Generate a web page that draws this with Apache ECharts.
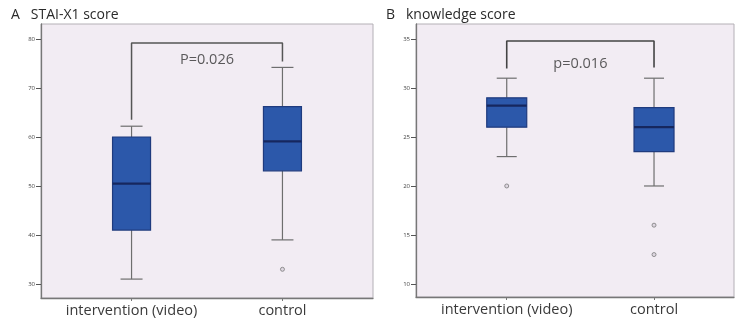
<!DOCTYPE html>
<html>
<head>
<meta charset="utf-8">
<script src="https://cdn.jsdelivr.net/npm/echarts@6/dist/echarts.min.js"></script>
<style>
  html, body { margin: 0; padding: 0; background: #ffffff; }
  #chart { width: 738px; height: 325px; }
</style>
</head>
<body>
<div id="chart"></div>
<script>
// Group labels shared by both panels
const categories = ['intervention (video)', 'control'];

// Panel A: STAI-X1 score — [low whisker, Q1, median, Q3, high whisker] per group
const staiBoxes = [
  [31, 41, 50.5, 60, 62.2],
  [39, 53.1, 59.1, 66.2, 74.2]
];
// Outliers as [group index, value]
const staiOutliers = [[1, 33]];
const staiTicks = [30, 40, 50, 60, 70, 80];
// Significance bracket: left foot, bar height, right foot
const staiBracket = { left: 63.5, top: 79.2, right: 75.4, label: 'P=0.026', labelAt: 75.8 };

// Panel B: knowledge score
const knowBoxes = [
  [23, 26, 28.2, 29, 31],
  [20, 23.5, 26, 28, 31]
];
const knowOutliers = [[0, 20], [1, 16], [1, 13]];
const knowTicks = [10, 15, 20, 25, 30, 35];
const knowBracket = { left: 32.0, top: 34.8, right: 32.1, label: 'p=0.016', labelAt: 32.5 };

const chart = echarts.init(document.getElementById('chart'), null, { renderer: 'canvas' });

const BOX_FILL = '#2c58aa';
const BOX_EDGE = '#1f3b7e';
const MEDIAN = '#16275e';
const WHISKER = '#6e6e6e';
const FONT = '"Open Sans", "Liberation Sans", sans-serif';

function boxRender(boxW, capW) {
  return function (params, api) {
    const x = api.value(0);
    const lo = api.coord([x, api.value(1)]);
    const q1 = api.coord([x, api.value(2)]);
    const md = api.coord([x, api.value(3)]);
    const q3 = api.coord([x, api.value(4)]);
    const hi = api.coord([x, api.value(5)]);
    const cx = lo[0];
    const lineStyle = { stroke: WHISKER, lineWidth: 1.2 };
    return {
      type: 'group',
      children: [
        { type: 'line', shape: { x1: cx, y1: q1[1], x2: cx, y2: lo[1] }, style: lineStyle },
        { type: 'line', shape: { x1: cx, y1: q3[1], x2: cx, y2: hi[1] }, style: lineStyle },
        { type: 'line', shape: { x1: cx - capW / 2, y1: lo[1], x2: cx + capW / 2, y2: lo[1] }, style: lineStyle },
        { type: 'line', shape: { x1: cx - capW / 2, y1: hi[1], x2: cx + capW / 2, y2: hi[1] }, style: lineStyle },
        { type: 'rect', shape: { x: cx - boxW / 2, y: q3[1], width: boxW, height: q1[1] - q3[1] },
          style: { fill: BOX_FILL, stroke: BOX_EDGE, lineWidth: 1.2 } },
        { type: 'line', shape: { x1: cx - boxW / 2, y1: md[1], x2: cx + boxW / 2, y2: md[1] },
          style: { stroke: MEDIAN, lineWidth: 2.2 } }
      ]
    };
  };
}

function bracketPoints(b) {
  return [[0, b.left], [0, b.top], [1, b.top], [1, b.right]];
}

function panelAxes(gridIndex, xMin, xMax, yMin, yMax, ticks) {
  const x = {
    type: 'value', gridIndex: gridIndex, min: xMin, max: xMax,
    axisLine: { show: true, onZero: false, lineStyle: { color: '#777777', width: 1.3 } },
    axisTick: { show: true, length: 3, lineStyle: { color: '#777777' }, customValues: [0, 1] },
    axisLabel: {
      customValues: [0, 1],
      formatter: v => categories[Math.round(v)],
      color: '#3a3a3a', fontSize: 14.5, fontFamily: FONT, margin: 5
    },
    splitLine: { show: false }
  };
  const y = {
    type: 'value', gridIndex: gridIndex, min: yMin, max: yMax,
    axisLine: { show: true, onZero: false, lineStyle: { color: '#777777', width: 1.3 } },
    axisTick: { show: true, length: 5, lineStyle: { color: '#555555' }, customValues: ticks },
    axisLabel: { customValues: ticks, color: '#444444', fontSize: 6, fontFamily: FONT, margin: 6 },
    splitLine: { show: false }
  };
  return [x, y];
}

const [xA, yA] = panelAxes(0, -0.6, 1.6, 27.14, 83.06, staiTicks);
const [xB, yB] = panelAxes(1, -0.616, 1.543, 8.67, 36.53, knowTicks);

const gridStyle = { show: true, backgroundColor: '#f2ecf3', borderColor: '#b4b0b6', borderWidth: 1 };

const option = {
  animation: false,
  backgroundColor: '#ffffff',
  title: [
    { text: 'A   STAI-X1 score', left: 6, top: 3,
      textStyle: { fontSize: 14, fontWeight: 'normal', color: '#2a2a2a', fontFamily: FONT } },
    { text: 'B   knowledge score', left: 381, top: 3,
      textStyle: { fontSize: 14, fontWeight: 'normal', color: '#2a2a2a', fontFamily: FONT } }
  ],
  grid: [
    Object.assign({ left: 41, top: 24, right: 365, bottom: 27 }, gridStyle),
    Object.assign({ left: 416, top: 24, right: 4, bottom: 28 }, gridStyle)
  ],
  xAxis: [xA, xB],
  yAxis: [yA, yB],
  series: [
    {
      type: 'custom', xAxisIndex: 0, yAxisIndex: 0,
      renderItem: boxRender(38, 22),
      data: staiBoxes.map((b, i) => [i].concat(b)),
      encode: { x: 0, y: [1, 2, 3, 4, 5] },
      z: 3
    },
    {
      type: 'custom', xAxisIndex: 1, yAxisIndex: 1,
      renderItem: boxRender(40, 20),
      data: knowBoxes.map((b, i) => [i].concat(b)),
      encode: { x: 0, y: [1, 2, 3, 4, 5] },
      z: 3
    },
    {
      type: 'scatter', xAxisIndex: 0, yAxisIndex: 0, data: staiOutliers,
      symbol: 'circle', symbolSize: 4,
      itemStyle: { color: '#d9d2dc', borderColor: '#7a7a7a', borderWidth: 1 }
    },
    {
      type: 'scatter', xAxisIndex: 1, yAxisIndex: 1, data: knowOutliers,
      symbol: 'circle', symbolSize: 4,
      itemStyle: { color: '#d9d2dc', borderColor: '#7a7a7a', borderWidth: 1 }
    },
    {
      type: 'line', xAxisIndex: 0, yAxisIndex: 0, data: bracketPoints(staiBracket),
      symbol: 'none', lineStyle: { color: '#555555', width: 1.5 }, z: 4
    },
    {
      type: 'line', xAxisIndex: 1, yAxisIndex: 1, data: bracketPoints(knowBracket),
      symbol: 'none', lineStyle: { color: '#444444', width: 1.6 }, z: 4
    },
    {
      type: 'scatter', xAxisIndex: 0, yAxisIndex: 0,
      data: [[0.5, staiBracket.labelAt]], symbolSize: 0,
      label: { show: true, position: 'inside', formatter: staiBracket.label,
        fontSize: 14.5, color: '#333333', fontFamily: FONT }
    },
    {
      type: 'scatter', xAxisIndex: 1, yAxisIndex: 1,
      data: [[0.5, knowBracket.labelAt]], symbolSize: 0,
      label: { show: true, position: 'inside', formatter: knowBracket.label,
        fontSize: 14.5, color: '#333333', fontFamily: FONT }
    }
  ]
};

chart.setOption(option);
</script>
</body>
</html>
